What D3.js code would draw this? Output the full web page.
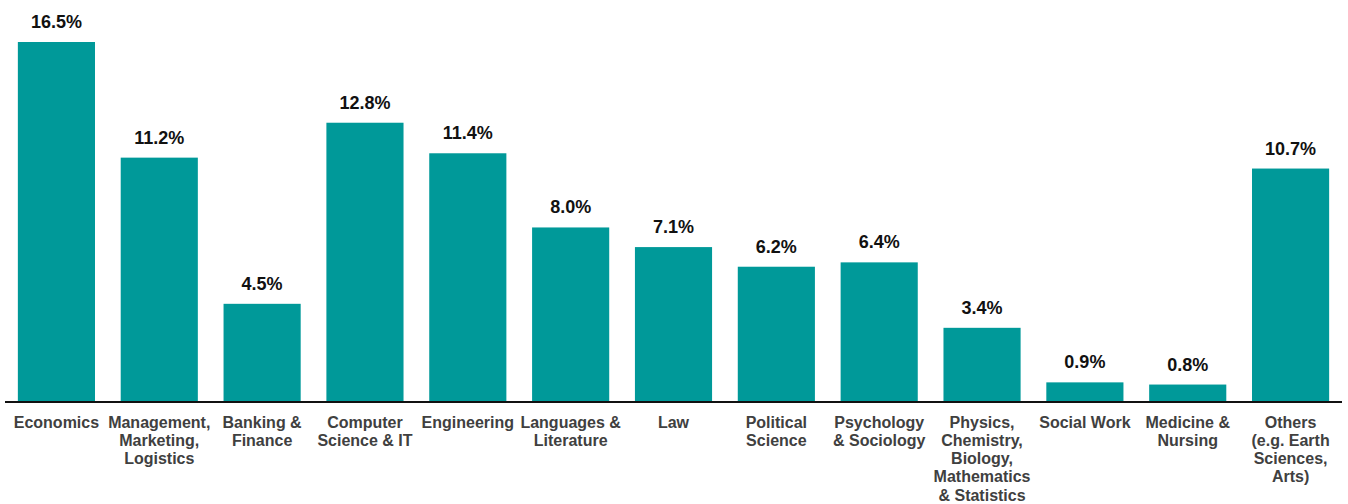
<!DOCTYPE html>
<html>
<head>
<meta charset="utf-8">
<script src="https://cdn.jsdelivr.net/npm/d3@7"></script>
<style>
  html, body { margin: 0; padding: 0; background: #fff; }
  svg { display: block; font-family: Arial, "Liberation Sans", sans-serif; }
</style>
</head>
<body>
<svg id="chart" width="1348" height="504"></svg>
<script>
// Share of students by field of study (%)
const categories = [
  "Economics",
  "Management,\nMarketing,\nLogistics",
  "Banking &\nFinance",
  "Computer\nScience & IT",
  "Engineering",
  "Languages &\nLiterature",
  "Law",
  "Political\nScience",
  "Psychology\n& Sociology",
  "Physics,\nChemistry,\nBiology,\nMathematics\n& Statistics",
  "Social Work",
  "Medicine &\nNursing",
  "Others\n(e.g. Earth\nSciences,\nArts)"
];
const values = [16.5, 11.2, 4.5, 12.8, 11.4, 8.0, 7.1, 6.2, 6.4, 3.4, 0.9, 0.8, 10.7];

const svg = d3.select("#chart");
const baseY = 402;

const x = d3.scaleBand()
  .domain(categories)
  .range([5, 1342])
  .paddingInner(0.25)
  .paddingOuter(0.125);

const y = d3.scaleLinear()
  .domain([0, 16.5])
  .range([baseY, 42]);

// bars
svg.append("g")
  .selectAll("rect")
  .data(values)
  .join("rect")
  .attr("x", (d, i) => x(categories[i]))
  .attr("width", x.bandwidth())
  .attr("y", d => y(d))
  .attr("height", d => baseY - y(d))
  .attr("fill", "#009999");

// value labels
svg.append("g")
  .selectAll("text")
  .data(values)
  .join("text")
  .attr("x", (d, i) => x(categories[i]) + x.bandwidth() / 2)
  .attr("y", d => y(d) - 14)
  .attr("text-anchor", "middle")
  .attr("font-size", 18)
  .attr("font-weight", "bold")
  .attr("fill", "#111")
  .text(d => d.toFixed(1) + "%");

// category axis
const axis = svg.append("g")
  .attr("transform", `translate(0,${baseY})`)
  .call(d3.axisBottom(x).tickSize(0).tickPadding(0));

axis.select(".domain")
  .attr("stroke", "#111")
  .attr("stroke-width", 2)
  .attr("d", "M5,0H1342");

axis.selectAll(".tick text").each(function(d) {
  const t = d3.select(this);
  const lines = d.split("\n");
  t.text(null)
    .attr("y", 25.5)
    .attr("dy", null)
    .attr("font-size", 16)
    .attr("font-weight", "bold")
    .attr("fill", "#404040")
    .attr("font-family", 'Arial, "Liberation Sans", sans-serif');
  lines.forEach((line, k) => {
    t.append("tspan")
      .attr("x", 0)
      .attr("y", 25.5 + k * 18.3)
      .text(line);
  });
});
</script>
</body>
</html>
